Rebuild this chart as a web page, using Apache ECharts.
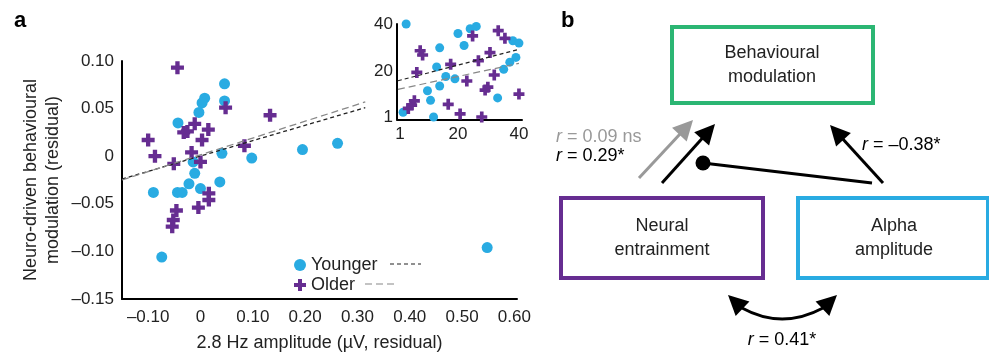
<!DOCTYPE html>
<html>
<head>
<meta charset="utf-8">
<script src="https://cdn.jsdelivr.net/npm/echarts@6/dist/echarts.min.js"></script>
<style>
  html, body { margin: 0; padding: 0; background: #fff; }
  #chart { width: 989px; height: 357px; }
</style>
</head>
<body>
<div id="chart"></div>
<script>
// main scatter (residuals)
const youngerX = [0.046, 0.008, 0.003, 0.046, -0.003, -0.043, 0.041, 0.098, -0.014, -0.011, -0.022, 0.037, 0.000, -0.090, -0.044, -0.035, -0.074, 0.548, 0.195, 0.262];
const youngerY = [0.076, 0.061, 0.056, 0.058, 0.046, 0.035, 0.003, -0.002, -0.006, -0.018, -0.029, -0.027, -0.034, -0.038, -0.038, -0.038, -0.106, -0.096, 0.007, 0.0135];
const olderX = [-0.044, 0.048, -0.100, -0.087, -0.011, -0.032, -0.025, 0.015, 0.003, -0.017, -0.051, 0.000, 0.084, 0.133, 0.016, 0.016, -0.004, -0.046, -0.052, -0.054];
const olderY = [0.093, 0.051, 0.017, 0.000, 0.034, 0.025, 0.026, 0.028, 0.017, 0.004, -0.008, -0.006, 0.011, 0.043, -0.039, -0.046, -0.054, -0.057, -0.067, -0.074];
const youngerFit = [[-0.15, -0.024], [0.315, 0.051]];
const olderFit = [[-0.15, -0.025], [0.315, 0.057]];
const xTicks = [-0.1, 0, 0.1, 0.2, 0.3, 0.4, 0.5, 0.6];

// inset (ranks)
const insetYoungX = [3, 2, 12, 10, 11, 14, 13, 16, 19, 14, 20, 22, 24, 26, 33, 35, 37, 39, 38, 40];
const insetYoungY = [40, 3, 1, 12, 8, 14, 22, 18, 17, 30, 36, 31, 38, 39, 9, 21, 24, 26, 33, 32];
const insetOldX = [3.7, 4.8, 5.7, 6.5, 7.6, 8.4, 16.8, 17.6, 20.7, 22.9, 24.8, 26.7, 27.8, 28.9, 29.8, 30.5, 31.9, 33.2, 35.4, 40];
const insetOldY = [4.6, 6, 7.8, 19.7, 28.8, 27, 6.3, 23.1, 2.3, 16.1, 35, 24.6, 1, 12.3, 13.5, 28, 18.6, 37.2, 34, 10.6];
const insetYoungFit = [[0.3, 16.2], [40, 29.4]];
const insetOldFit = [[0.3, 12.6], [40, 23.5]];
const insetTicks = [1, 20, 40];

const CYAN = '#29abe2';
const PURPLE = '#662d91';
const GREEN = '#2bb673';
const FONT = 'Liberation Sans';
const PLUS = 'path://M4,0h4v4h4v4h-4v4h-4v-4h-4v-4h4z';

const zip = (xs, ys) => xs.map((x, i) => [x, ys[i]]);
const fmt = v => {
  if (Math.abs(v) < 1e-9) return '0';
  const s = Math.abs(v).toFixed(2);
  return v < 0 ? '\u2013' + s : s;
};

// arrow = shaft line + triangular head
function head(x2, y2, a, color) {
  const L = 20, H = 10;
  const bx = x2 - L * Math.cos(a), by = y2 - L * Math.sin(a);
  return { type: 'polygon', shape: { points: [[x2, y2], [bx + H * Math.sin(a), by - H * Math.cos(a)], [bx - H * Math.sin(a), by + H * Math.cos(a)]] }, style: { fill: color } };
}
function arrow(x1, y1, x2, y2, color, lw) {
  const a = Math.atan2(y2 - y1, x2 - x1);
  const bx = x2 - 18 * Math.cos(a), by = y2 - 18 * Math.sin(a);
  return [
    { type: 'line', shape: { x1: x1, y1: y1, x2: bx, y2: by }, style: { stroke: color, lineWidth: lw } },
    head(x2, y2, a, color)
  ];
}
function box(x, y, w, h, color, lines, cx) {
  return [
    { type: 'rect', shape: { x: x, y: y, width: w, height: h }, style: { fill: 'none', stroke: color, lineWidth: 4 } },
    { type: 'text', x: cx, y: y + h / 2, style: { text: lines, fill: '#222', font: '18px ' + FONT, align: 'center', verticalAlign: 'middle', lineHeight: 24 } }
  ];
}
function rtext(x, y, txt, color, align) {
  return { type: 'text', x: x, y: y, style: { text: '{i|r} = ' + txt, fill: color, font: '18px ' + FONT, verticalAlign: 'middle', align: align || 'left',
    rich: { i: { fontStyle: 'italic', fill: color, fontSize: 18, fontFamily: FONT } } } };
}

const graphics = [
  { type: 'text', x: 14, y: 10, style: { text: 'a', font: 'bold 22px ' + FONT, fill: '#000' } },
  { type: 'text', x: 561, y: 10, style: { text: 'b', font: 'bold 22px ' + FONT, fill: '#000' } },
  // legend trailing dashes
  { type: 'line', shape: { x1: 390, y1: 264, x2: 421, y2: 264 }, style: { stroke: '#222', lineWidth: 1.2, lineDash: [4, 3] } },
  { type: 'line', shape: { x1: 365, y1: 284, x2: 396, y2: 284 }, style: { stroke: '#888', lineWidth: 1.2, lineDash: [7, 4] } },
  // panel b
  ...box(672, 27, 201, 76, GREEN, 'Behavioural\nmodulation', 772),
  ...box(561, 198, 202, 80, PURPLE, 'Neural\nentrainment', 662),
  ...box(798, 198, 190, 80, CYAN, 'Alpha\namplitude', 894),
  ...arrow(639, 178, 693, 120, '#999', 3),
  ...arrow(662, 183, 715, 124, '#000', 3),
  ...arrow(883, 183, 830, 125, '#000', 3),
  { type: 'line', shape: { x1: 703, y1: 163, x2: 872, y2: 183 }, style: { stroke: '#000', lineWidth: 3 } },
  { type: 'circle', shape: { cx: 703, cy: 163, r: 7.5 }, style: { fill: '#000' } },
  { type: 'bezierCurve', shape: { x1: 742, y1: 308, x2: 823, y2: 308, cpx1: 782, cpy1: 330 }, style: { stroke: '#000', lineWidth: 3, fill: 'none' } },
  head(728, 295, Math.atan2(295 - 312, 728 - 746), '#000'),
  head(837, 295, Math.atan2(295 - 312, 837 - 819), '#000'),
  rtext(556, 137, '0.09 ns', '#999'),
  rtext(556, 156, '0.29*', '#000'),
  rtext(862, 145, '\u20130.38*', '#000'),
  rtext(782, 340, '0.41*', '#000', 'center')
];

const axisLab = { color: '#222', fontSize: 17, fontFamily: FONT };

const option = {
  animation: false,
  textStyle: { fontFamily: FONT },
  grid: [
    { left: 122, right: 472, top: 61, bottom: 55 },
    { left: 397, right: 467, top: 24, bottom: 237.6 }
  ],
  legend: {
    data: ['Younger', 'Older'], orient: 'vertical', left: 289, top: 251, itemGap: 2,
    itemWidth: 12, itemHeight: 12,
    textStyle: { fontSize: 18, color: '#222', fontFamily: FONT, padding: [0, 0, 0, 0] }
  },
  xAxis: [
    { gridIndex: 0, type: 'value', min: -0.15, max: 0.605, splitLine: { show: false },
      axisLine: { onZero: false, lineStyle: { color: '#000', width: 2 } }, axisTick: { show: false },
      axisLabel: Object.assign({ customValues: xTicks, formatter: fmt, margin: 10 }, axisLab),
      name: '2.8 Hz amplitude (\u00b5V, residual)', nameLocation: 'middle', nameGap: 35,
      nameTextStyle: { fontSize: 18, color: '#222', fontFamily: FONT } },
    { gridIndex: 1, type: 'value', min: 0, max: 41, splitLine: { show: false },
      axisLine: { onZero: false, lineStyle: { color: '#000', width: 2 } }, axisTick: { show: false },
      axisLabel: Object.assign({ customValues: insetTicks, margin: 6 }, axisLab) }
  ],
  yAxis: [
    { gridIndex: 0, type: 'value', min: -0.15, max: 0.10, interval: 0.05, splitLine: { show: false },
      axisLine: { show: true, onZero: false, lineStyle: { color: '#000', width: 2 } }, axisTick: { show: false },
      axisLabel: Object.assign({ formatter: fmt, margin: 8 }, axisLab),
      name: 'Neuro-driven behavioural\nmodulation (residual)', nameLocation: 'middle', nameGap: 58,
      nameTextStyle: { fontSize: 18, color: '#222', fontFamily: FONT, lineHeight: 22 } },
    { gridIndex: 1, type: 'value', min: 0, max: 40, splitLine: { show: false },
      axisLine: { show: true, onZero: false, lineStyle: { color: '#000', width: 2 } }, axisTick: { show: false },
      axisLabel: Object.assign({ customValues: insetTicks, margin: 4 }, axisLab) }
  ],
  series: [
    { name: 'Younger', type: 'scatter', xAxisIndex: 0, yAxisIndex: 0, data: zip(youngerX, youngerY),
      symbol: 'circle', symbolSize: 11, itemStyle: { color: CYAN, opacity: 1 } },
    { name: 'Older', type: 'scatter', xAxisIndex: 0, yAxisIndex: 0, data: zip(olderX, olderY),
      symbol: PLUS, symbolSize: 13, itemStyle: { color: PURPLE, opacity: 1 } },
    { name: 'youngFit', type: 'line', xAxisIndex: 0, yAxisIndex: 0, data: youngerFit, symbol: 'none',
      lineStyle: { color: '#222', width: 1.3, type: [4, 3] } },
    { name: 'oldFit', type: 'line', xAxisIndex: 0, yAxisIndex: 0, data: olderFit, symbol: 'none',
      lineStyle: { color: '#888', width: 1.3, type: [7, 4] } },
    { name: 'insetYoung', type: 'scatter', xAxisIndex: 1, yAxisIndex: 1, data: zip(insetYoungX, insetYoungY),
      symbol: 'circle', symbolSize: 9, itemStyle: { color: CYAN, opacity: 1 } },
    { name: 'insetOld', type: 'scatter', xAxisIndex: 1, yAxisIndex: 1, data: zip(insetOldX, insetOldY),
      symbol: PLUS, symbolSize: 11, itemStyle: { color: PURPLE, opacity: 1 } },
    { name: 'insetYoungFit', type: 'line', xAxisIndex: 1, yAxisIndex: 1, data: insetYoungFit, symbol: 'none',
      lineStyle: { color: '#222', width: 1.2, type: [4, 3] } },
    { name: 'insetOldFit', type: 'line', xAxisIndex: 1, yAxisIndex: 1, data: insetOldFit, symbol: 'none',
      lineStyle: { color: '#888', width: 1.2, type: [7, 4] } }
  ],
  graphic: graphics
};

const chart = echarts.init(document.getElementById('chart'));
chart.setOption(option);
</script>
</body>
</html>
